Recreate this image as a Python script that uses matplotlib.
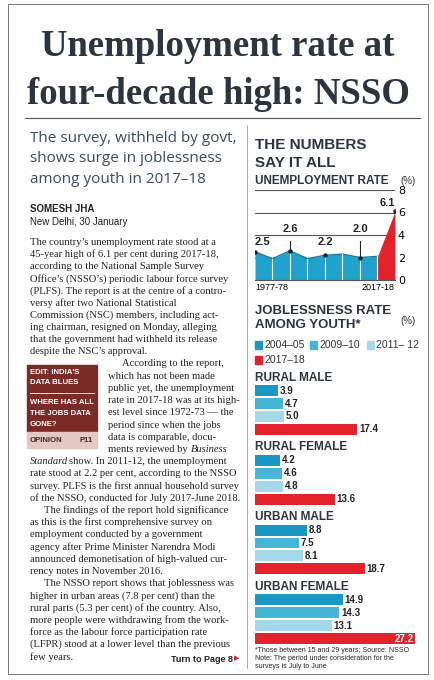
import matplotlib
matplotlib.use("Agg")
import matplotlib.pyplot as plt
from matplotlib.patches import Rectangle
import numpy as np

# ---- data ----
years = ["1977-78", "", "", "", "", "", "", "", "2017-18"]
unemp = [2.5, 1.9, 2.6, 1.9, 2.2, 2.3, 2.0, 2.1, 6.1]
unemp_labels = {0: "2.5", 2: "2.6", 4: "2.2", 6: "2.0", 8: "6.1"}
series = ["2004\u201305", "2009\u201310", "2011\u2013 12", "2017\u201318"]
groups = ["RURAL MALE", "RURAL FEMALE", "URBAN MALE", "URBAN FEMALE"]
youth = {
    "RURAL MALE": [3.9, 4.7, 5.0, 17.4],
    "RURAL FEMALE": [4.2, 4.6, 4.8, 13.6],
    "URBAN MALE": [8.8, 7.5, 8.1, 18.7],
    "URBAN FEMALE": [14.9, 14.3, 13.1, 27.2],
}
colors = ["#1898c2", "#45b6d6", "#a5d9ea", "#e3222b"]

W, H = 435, 680
fig = plt.figure(figsize=(W / 100, H / 100), dpi=100)
fig.patch.set_facecolor("white")
renderer = fig.canvas.get_renderer()

def fx(x): return x / W
def fy(y): return 1 - y / H
def txt(x, y, s, **kw):
    kw.setdefault("va", "center")
    return fig.text(fx(x), fy(y), s, **kw)
def right_px(t):
    return t.get_window_extent(renderer).x1
def rect(x0, y0, x1, y1, **kw):
    fig.add_artist(Rectangle((fx(x0), fy(y1)), fx(x1 - x0), fy(y0) - fy(y1),
                             transform=fig.transFigure, **kw))

SERIF = "Liberation Serif"
SANS = "Liberation Sans"
HEAD = "#2c3440"
SUB = "#3b4b5c"
INK = "#222222"

# outer frame
rect(8, 4, 428, 674, fill=False, lw=0.7, ec="#777777")

# title
txt(218, 47, "Unemployment rate at", ha="center", family=SERIF, weight="bold", size=26.5, color=HEAD)
txt(218, 94, "four-decade high: NSSO", ha="center", family=SERIF, weight="bold", size=26.5, color=HEAD)
fig.add_artist(plt.Line2D([fx(25), fx(420)], [fy(118), fy(118)], transform=fig.transFigure, color="#555555", lw=0.8))

# subtitle
for i, s in enumerate(["The survey, withheld by govt,", "shows surge in joblessness", "among youth in 2017\u201318"]):
    txt(30, 138 + i * 21, s, family="Open Sans", size=11, color=SUB)

# byline
txt(30, 209, "SOMESH JHA", family=SANS, weight="bold", size=7, color=INK)
txt(30, 222, "New Delhi, 30 January", family=SANS, size=7, color=INK)

# body
lines = [
    (30, "The country\u2019s unemployment rate stood at a"),
    (30, "45-year high of 6.1 per cent during 2017-18,"),
    (30, "according to the National Sample Survey"),
    (30, "Office\u2019s (NSSO\u2019s) periodic labour force survey"),
    (30, "(PLFS). The report is at the centre of a contro-"),
    (30, "versy after two National Statistical"),
    (30, "Commission (NSC) members, including act-"),
    (30, "ing chairman, resigned on Monday, alleging"),
    (30, "that the government had withheld its release"),
    (30, "despite the NSC\u2019s approval."),
    (122, "According to the report,"),
    (108, "which has not been made"),
    (108, "public yet, the unemployment"),
    (108, "rate in 2017-18 was at its high-"),
    (108, "est level since 1972-73 \u2014 the"),
    (108, "period since when the jobs"),
    (108, "data is comparable, docu-"),
    (108, "ments reviewed by "),
    (30, None),
    (30, "rate stood at 2.2 per cent, according to the NSSO"),
    (30, "survey. PLFS is the first annual household survey"),
    (30, "of the NSSO, conducted for July 2017-June 2018."),
    (44, "The findings of the report hold significance"),
    (30, "as this is the first comprehensive survey on"),
    (30, "employment conducted by a government"),
    (30, "agency after Prime Minister Narendra Modi"),
    (30, "announced demonetisation of high-valued cur-"),
    (30, "rency notes in November 2016."),
    (44, "The NSSO report shows that joblessness was"),
    (30, "higher in urban areas (7.8 per cent) than the"),
    (30, "rural parts (5.3 per cent) of the country. Also,"),
    (30, "more people were withdrawing from the work-"),
    (30, "force as the labour force participation rate"),
    (30, "(LFPR) stood at a lower level than the previous"),
    (30, "few years."),
]
BS = 7.6
for i, (x0, s) in enumerate(lines):
    y = 242 + i * 12.2
    if s is None:
        t = txt(30, y, "Standard", family=SERIF, size=BS, style="italic", color=INK)
        txt(right_px(t) + 1, y, "show. In 2011-12, the unemployment", family=SERIF, size=BS, color=INK)
    else:
        t = txt(x0, y, s, family=SERIF, size=BS, color=INK)
        if s.startswith("ments reviewed by"):
            txt(right_px(t) + 1, y, "Business", family=SERIF, size=BS, style="italic", color=INK)
txt(233, 659, "Turn to Page 8", ha="right", family=SANS, weight="bold", size=6.5, color=INK)
txt(234, 659, "\u25B6", ha="left", family=[SANS, "DejaVu Sans"], size=5, color="#e3222b")

# sidebar
SB = 5.6
rect(27, 365, 97, 432, color="#7a2b26")
txt(30, 372, "EDIT: INDIA'S", family=SANS, weight="bold", size=SB, color="white")
txt(30, 383, "DATA BLUES", family=SANS, weight="bold", size=SB, color="white")
fig.add_artist(plt.Line2D([fx(30), fx(94)], [fy(393), fy(393)], transform=fig.transFigure, color="white", lw=0.6))
for i, s in enumerate(["WHERE HAS ALL", "THE JOBS DATA", "GONE?"]):
    txt(30, 403 + i * 11, s, family=SANS, weight="bold", size=SB, color="white")
rect(27, 432, 97, 448, color="#e3c9c2")
txt(30, 440, "OPINION", family=SANS, weight="bold", size=SB, color="#3a2a28")
txt(93, 440, "P11", ha="right", family=SANS, weight="bold", size=SB, color="#3a2a28")

# column divider
fig.add_artist(plt.Line2D([fx(247), fx(247)], [fy(125), fy(668)], transform=fig.transFigure, color="#888888", lw=0.5))

# right column headings
txt(255, 145, "THE NUMBERS", family=SANS, weight="bold", size=11, color=HEAD)
txt(255, 163, "SAY IT ALL", family=SANS, weight="bold", size=11, color=HEAD)
txt(255, 181, "UNEMPLOYMENT RATE", family=SANS, weight="bold", size=8.5, color=HEAD)
txt(400, 181, "(%)", family=SANS, size=7, color="#333333")

# area chart
ax = fig.add_axes([fx(255), fy(280), fx(140), fy(190) - fy(280)])
x = np.arange(len(unemp))
ax.fill_between(x[:-1], unemp[:-1], color="#1fa2cb", lw=0)
ax.fill_between(x[-2:], unemp[-2:], color="#e3222b", lw=0)
ax.plot(x[:-1], unemp[:-1], color="#177a9c", lw=1)
for xi in x[1:-1]:
    ax.plot([xi, xi], [0, unemp[xi]], color="white", lw=0.8)
for yv in [2, 4, 6, 8]:
    ax.axhline(yv, color="#555555", lw=0.8, zorder=0)
for k, lab in unemp_labels.items():
    ly = {0: 2.5, 2: 3.8, 4: 2.6, 6: 3.8, 8: 6.0}[k]
    if k in (2, 6):
        ax.plot([k, k], [unemp[k], ly - 0.3], color=INK, lw=0.8)
    ax.plot(k, unemp[k], "o", ms=2.2, color=INK)
    ha = "left" if k == 0 else ("right" if k == 8 else "center")
    ax.text(k, ly + (0.3 if k not in (0, 8) else 0.4), lab, ha=ha, va="bottom",
            family=SANS, weight="bold", size=8, color=INK)
ax.set_xlim(0, 8)
ax.set_ylim(0, 8)
ax.set_yticks([0, 2, 4, 6, 8])
ax.yaxis.tick_right()
ax.tick_params(axis="y", length=0, labelsize=8, pad=2)
ax.set_xticks([0, 8])
ax.set_xticklabels([years[0], years[-1]], family=SANS, size=6.5)
ax.get_xticklabels()[0].set_ha("left")
ax.get_xticklabels()[1].set_ha("right")
ax.tick_params(axis="x", length=0, pad=2)
for sp in ax.spines.values():
    sp.set_visible(False)
ax.spines["bottom"].set_visible(True)
ax.spines["bottom"].set_color("#555555")

# joblessness heading
txt(255, 311, "JOBLESSNESS RATE", family=SANS, weight="bold", size=9.5, color=HEAD)
txt(255, 325, "AMONG YOUTH*", family=SANS, weight="bold", size=9.5, color=HEAD)
txt(400, 321, "(%)", family=SANS, size=7, color="#333333")
legpos = [(255, 345), (310, 345), (367, 345), (255, 360)]
for (lx, ly), c, s in zip(legpos, colors, series):
    rect(lx, ly - 4, lx + 7, ly + 4, color=c)
    txt(lx + 9, ly, s, family=SANS, size=7.5, color="#333333")

# bars
bx = fig.add_axes([fx(255), fy(645), fx(160), fy(370) - fy(645)])
bar_h = 0.85
pos = 0
label_pos = []
for g in groups:
    label_pos.append(pos)
    pos += 1
    for j in range(4):
        v = youth[g][j]
        bx.barh(pos, v, height=bar_h, color=colors[j], lw=0)
        last = (g == groups[-1] and j == 3)
        bx.text(v - 0.2 if last else v + 0.3, pos, f"{v:.1f}", va="center",
                ha="right" if last else "left", family=SANS, weight="bold", size=7,
                color="white" if last else INK)
        pos += 1
    pos += 0.4
for g, p in zip(groups, label_pos):
    bx.text(0, p, g, va="center", ha="left", family=SANS, weight="bold", size=8.5, color=HEAD)
bx.set_xlim(0, 27.2)
bx.set_ylim(pos - 0.4 - 0.5, -0.6)
bx.axis("off")

txt(255, 651, "*Those between 15 and 29 years; Source: NSSO", family=SANS, size=5, color=INK)
txt(255, 659, "Note: The period under consideration for the", family=SANS, size=5, color=INK)
txt(255, 667, "surveys is July to June", family=SANS, size=5, color=INK)

fig.savefig("out.png", dpi=100, facecolor="white")
